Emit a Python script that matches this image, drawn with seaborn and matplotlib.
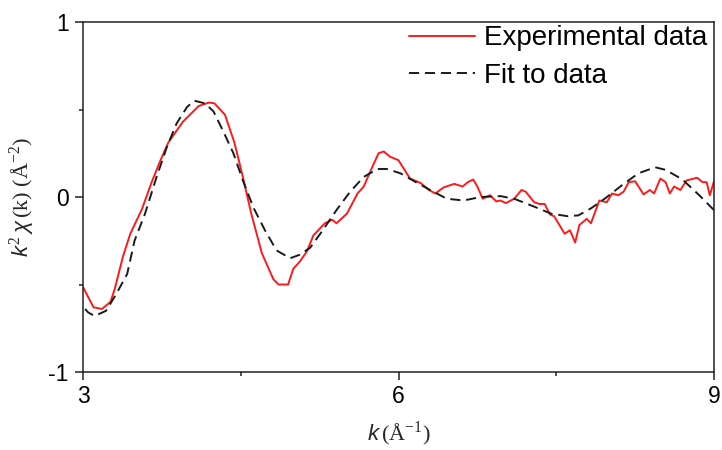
import matplotlib
matplotlib.use("Agg")
import matplotlib.pyplot as plt
import seaborn as sns
import numpy as np
from matplotlib.ticker import MultipleLocator

# Experimental data (red)
k_exp = [3.00, 3.10, 3.18, 3.26, 3.30, 3.38, 3.45, 3.56, 3.65, 3.73, 3.81, 3.95, 4.10, 4.20, 4.25,
         4.35, 4.44, 4.52, 4.60, 4.70, 4.81, 4.86, 4.95, 5.00, 5.06, 5.13, 5.19, 5.30, 5.37, 5.41,
         5.51, 5.61, 5.67, 5.72, 5.81, 5.86, 5.92, 6.00, 6.11, 6.21, 6.29, 6.35, 6.43, 6.53, 6.61,
         6.66, 6.71, 6.75, 6.80, 6.87, 6.93, 6.97, 7.02, 7.10, 7.17, 7.21, 7.29, 7.34, 7.39, 7.44,
         7.48, 7.58, 7.63, 7.68, 7.72, 7.79, 7.83, 7.87, 7.91, 7.98, 8.03, 8.09, 8.14, 8.19, 8.25,
         8.33, 8.39, 8.43, 8.49, 8.54, 8.58, 8.62, 8.68, 8.74, 8.84, 8.89, 8.93, 8.96, 9.00]
chi_exp = [-0.515, -0.63, -0.64, -0.60, -0.53, -0.34, -0.21, -0.07, 0.08, 0.20, 0.31, 0.43, 0.52, 0.54, 0.535,
           0.47, 0.31, 0.115, -0.095, -0.32, -0.47, -0.50, -0.50, -0.41, -0.37, -0.31, -0.22, -0.15, -0.13, -0.15,
           -0.095, 0.02, 0.06, 0.13, 0.25, 0.26, 0.23, 0.21, 0.105, 0.08, 0.04, 0.02, 0.055, 0.075, 0.06,
           0.085, 0.10, 0.06, -0.01, 0.01, -0.025, -0.02, -0.035, -0.01, 0.04, 0.03, -0.03, -0.04, -0.04, -0.10,
           -0.11, -0.21, -0.19, -0.26, -0.16, -0.125, -0.15, -0.085, -0.02, -0.03, 0.02, 0.01, 0.03, 0.085, 0.09,
           0.015, 0.04, 0.02, 0.105, 0.085, 0.02, 0.06, 0.04, 0.095, 0.11, 0.085, 0.085, 0.01, 0.09]

# Fit to data (black dashed)
k_fit = [3.02, 3.05, 3.11, 3.22, 3.32, 3.42, 3.49, 3.59, 3.70, 3.80, 3.89, 3.99, 4.06, 4.16, 4.24,
         4.33, 4.43, 4.52, 4.62, 4.73, 4.84, 4.97, 5.06, 5.16, 5.28, 5.41, 5.54, 5.67, 5.80, 5.89,
         6.02, 6.15, 6.30, 6.46, 6.62, 6.78, 6.97, 7.10, 7.29, 7.45, 7.61, 7.71, 7.83, 7.96, 8.12,
         8.28, 8.44, 8.54, 8.70, 8.86, 9.00]
chi_fit = [-0.64, -0.66, -0.68, -0.65, -0.55, -0.44, -0.25, -0.095, 0.115, 0.29, 0.42, 0.515, 0.55, 0.535, 0.49,
           0.38, 0.25, 0.095, -0.06, -0.19, -0.305, -0.35, -0.33, -0.29, -0.19, -0.075, 0.03, 0.115, 0.16, 0.16,
           0.135, 0.09, 0.04, -0.01, -0.02, 0.0, 0.005, -0.01, -0.055, -0.095, -0.11, -0.105, -0.065, -0.01, 0.065,
           0.135, 0.17, 0.155, 0.10, 0.01, -0.075]

x_ticks = [3, 6, 9]
y_ticks = [-1, 0, 1]
y_tick_labels = ["-1", "0", "1"]

sns.set_theme(style="ticks")
plt.rcParams['font.family'] = ['Liberation Sans', 'DejaVu Sans']
plt.rcParams['mathtext.fontset'] = 'custom'
plt.rcParams['mathtext.it'] = 'Liberation Sans:italic'
plt.rcParams['mathtext.rm'] = 'Liberation Serif'
plt.rcParams['mathtext.cal'] = 'Liberation Serif:italic'

fig = plt.figure(figsize=(7.22, 4.5), dpi=100)
fig.patch.set_facecolor('white')
ax = fig.add_axes([83/722, 78/450, 631/722, 350/450])

sns.lineplot(x=k_exp, y=chi_exp, ax=ax, color='#ff1a1a', linewidth=1.4,
             label='Experimental data', sort=False)
sns.lineplot(x=k_fit, y=chi_fit, ax=ax, color='#1a1a1a', linewidth=1.4,
             label='Fit to data', sort=False)
ax.lines[1].set_linestyle((0, (5.2, 3.0)))

ax.set_xlim(3, 9)
ax.set_ylim(-1, 1)
ax.set_xticks(x_ticks)
ax.set_yticks(y_ticks)
ax.set_yticklabels(y_tick_labels)
ax.xaxis.set_minor_locator(MultipleLocator(1.5))
ax.yaxis.set_minor_locator(MultipleLocator(0.5))
ax.tick_params(axis='both', which='major', direction='out', length=5.8, width=1.1,
               labelsize=16.5, color='#222222', labelcolor='#000000')
ax.tick_params(axis='x', which='major', pad=3.5)
ax.tick_params(axis='y', which='major', pad=4.5)
ax.tick_params(axis='both', which='minor', direction='out', length=3, width=1.1, color='#222222')
for sp in ax.spines.values():
    sp.set_visible(True)
    sp.set_linewidth(1.1)
    sp.set_color('#222222')

ax.set_xlabel(r'$k\,$(Å$^{-1}$)', fontsize=16, family=['Liberation Serif', 'DejaVu Serif'], labelpad=8)
ax.set_ylabel(r'$k^{2}\,\chi\,$(k) (Å$^{-2}$)', fontsize=16, family=['Liberation Serif', 'DejaVu Serif'], labelpad=8)

leg = ax.legend(loc='upper right', frameon=False, fontsize=20, handlelength=2.4,
                handletextpad=0.3, labelspacing=0.42, borderaxespad=0.0,
                bbox_to_anchor=(0.993, 0.998), borderpad=0.1)
for t in leg.get_texts():
    t.set_color('#000000')

fig.savefig('out.png', dpi=100, facecolor='white')
